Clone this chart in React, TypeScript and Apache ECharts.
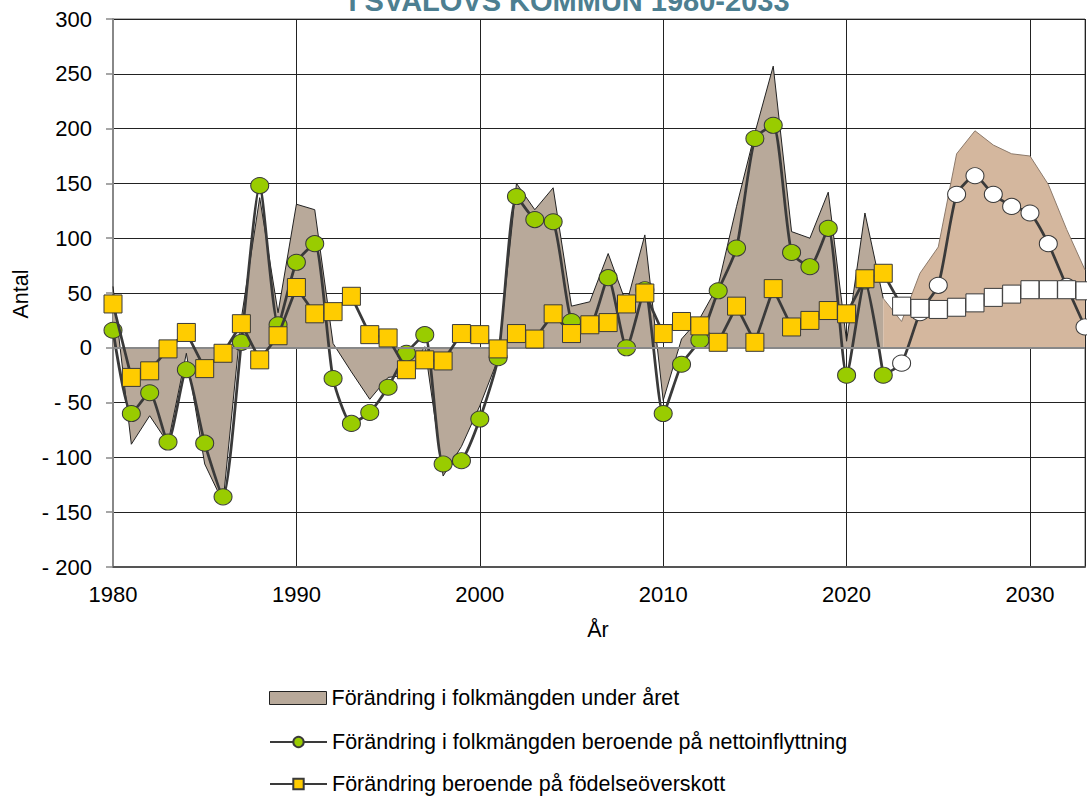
import React, { useEffect, useRef } from "react";
import * as echarts from "echarts";

const histYears = [
  1980, 1981, 1982, 1983, 1984, 1985, 1986, 1987, 1988, 1989,
  1990, 1991, 1992, 1993, 1994, 1995, 1996, 1997, 1998, 1999,
  2000, 2001, 2002, 2003, 2004, 2005, 2006, 2007, 2008, 2009,
  2010, 2011, 2012, 2013, 2014, 2015, 2016, 2017, 2018, 2019,
  2020, 2021, 2022,
];
const totalChange = [
  56, -88, -62, -87, -5, -106, -141, 27, 137, 32,
  131, 126, 4, -22, -47, -27, -25, 1, -117, -90,
  -53, -10, 150, 126, 146, 38, 42, 86, 40, 103,
  -48, 8, 27, 57, 129, 196, 257, 106, 100, 142,
  6, 123, 45,
];
const netMigration = [
  16, -60, -41, -86, -20, -87, -136, 5, 148, 21,
  78, 95, -28, -69, -59, -36, -5, 12, -106, -103,
  -65, -9, 138, 117, 115, 24, 21, 64, 0, 53,
  -60, -15, 7, 52, 91, 191, 203, 87, 74, 109,
  -25, 61, -25,
];
const birthSurplus = [
  40, -27, -21, -1, 14, -19, -5, 22, -11, 11,
  55, 31, 33, 47, 12, 9, -20, -11, -12, 13,
  12, -1, 13, 8, 31, 13, 21, 23, 40, 50,
  13, 24, 20, 5, 38, 5, 54, 19, 25, 34,
  31, 63, 68,
];

const projYears = [2022, 2023, 2024, 2025, 2026, 2027, 2028, 2029, 2030, 2031, 2032, 2033];
const projTotal = [45, 24, 68, 92, 177, 198, 185, 177, 175, 149, 108, 71];
const projMigration = [-25, -14, 32, 57, 140, 157, 140, 129, 123, 95, 56, 19];
const projBirth = [68, 38, 36, 35, 37, 41, 46, 49, 53, 53, 53, 52];

const NAME_AREA = "Förändring i folkmängden under året";
const NAME_MIG = "Förändring i folkmängden beroende på nettoinflyttning";
const NAME_BIRTH = "Förändring beroende på födelseöverskott";
const TITLE = "I SVALÖVS KOMMUN 1980-2033";

const FONT = "'Liberation Sans', Arial, sans-serif";
const LINE_COLOR = "#3a3a3a";

export default function App() {
  const ref = useRef<HTMLDivElement>(null);

  useEffect(() => {
    const chart = echarts.init(ref.current as HTMLDivElement, null, { renderer: "svg" });
    const pair = (xs: number[], vs: number[]) => xs.map((x, i) => [x, vs[i]]);
    const projPair = (xs: number[], vs: number[]) =>
      xs.map((x, i) => (i === 0 ? { value: [x, vs[i]], symbol: "none" } : [x, vs[i]]));

    const legendBase = {
      orient: "horizontal",
      left: 269,
      itemWidth: 57,
      itemHeight: 13,
      padding: 0,
      textStyle: { fontSize: 21.5, lineHeight: 22, color: "#000", fontFamily: FONT },
    };

    const option: any = {
      animation: false,
      backgroundColor: "#ffffff",
      textStyle: { fontFamily: FONT },
      grid: {
        left: 113,
        right: 2,
        top: 19,
        bottom: 229,
        show: true,
        borderColor: "#666",
        borderWidth: 1,
      },
      legend: [
        {
          ...legendBase,
          top: 687,
          data: [
            {
              name: NAME_AREA,
              icon: "rect",
              itemStyle: { color: "#b8a99a", borderColor: "#222", borderWidth: 1 },
            },
          ],
        },
        { ...legendBase, top: 731, data: [{ name: NAME_MIG }] },
        { ...legendBase, top: 773, data: [{ name: NAME_BIRTH }] },
      ],
      xAxis: {
        type: "value",
        min: 1980,
        max: 2033,
        interval: 10,
        axisLine: { show: true, onZero: false, lineStyle: { color: "#555", width: 2 } },
        axisTick: { show: false },
        axisLabel: {
          fontSize: 22,
          color: "#000",
          margin: 16,
          showMaxLabel: false,
          fontFamily: FONT,
          formatter: (v: number) => String(v),
        },
        splitLine: { show: true, lineStyle: { color: "#222", width: 1 } },
      },
      yAxis: {
        type: "value",
        min: -200,
        max: 300,
        interval: 50,
        axisLine: { show: true, lineStyle: { color: "#888", width: 2 } },
        axisTick: { show: true, length: 7, lineStyle: { color: "#888", width: 1.5 } },
        axisLabel: {
          fontSize: 22,
          color: "#000",
          margin: 21,
          fontFamily: FONT,
          formatter: (v: number) => (v < 0 ? "- " + Math.abs(v) : String(v)),
        },
        splitLine: { show: true, lineStyle: { color: "#222", width: 1 } },
      },
      graphic: [
        {
          type: "text",
          x: 569,
          y: 1,
          silent: true,
          style: {
            text: TITLE,
            fill: "#4d7f91",
            fontSize: 29,
            fontWeight: "bold",
            fontFamily: FONT,
            align: "center",
            verticalAlign: "middle",
          },
        },
        {
          type: "text",
          x: 21,
          y: 294,
          rotation: Math.PI / 2,
          silent: true,
          style: {
            text: "Antal",
            fill: "#000",
            fontSize: 21.5,
            fontFamily: FONT,
            align: "center",
            verticalAlign: "middle",
          },
        },
        {
          type: "text",
          x: 598,
          y: 630,
          silent: true,
          style: {
            text: "År",
            fill: "#000",
            fontSize: 21.5,
            fontFamily: FONT,
            align: "center",
            verticalAlign: "middle",
          },
        },
      ],
      series: [
        {
          name: NAME_AREA,
          type: "line",
          data: pair(histYears, totalChange),
          symbol: "none",
          lineStyle: { color: "#222", width: 1 },
          areaStyle: { color: "#b8a99a", opacity: 1 },
          itemStyle: { color: "#b8a99a" },
          z: 1,
          markLine: {
            silent: true,
            symbol: "none",
            label: { show: false },
            lineStyle: { color: "#888", width: 2, type: "solid" },
            data: [{ yAxis: 0 }],
          },
        },
        {
          name: "proj-area",
          type: "line",
          data: pair(projYears, projTotal),
          symbol: "none",
          lineStyle: { color: "#8c7a6b", width: 1 },
          areaStyle: { color: "#d4b79e", opacity: 1 },
          itemStyle: { color: "#d4b79e" },
          z: 1,
        },
        {
          name: "proj-mig",
          type: "line",
          data: projPair(projYears, projMigration),
          smooth: 0.2,
          symbol: "circle",
          symbolSize: [18, 16],
          showAllSymbol: true,
          lineStyle: { color: LINE_COLOR, width: 2.75 },
          itemStyle: { color: "#ffffff", borderColor: LINE_COLOR, borderWidth: 1 },
          z: 3,
        },
        {
          name: "proj-birth",
          type: "line",
          data: projPair(projYears, projBirth),
          symbol: "rect",
          symbolSize: 18,
          showAllSymbol: true,
          lineStyle: { color: LINE_COLOR, width: 2.75 },
          itemStyle: { color: "#ffffff", borderColor: LINE_COLOR, borderWidth: 1 },
          z: 3,
        },
        {
          name: NAME_MIG,
          type: "line",
          data: pair(histYears, netMigration),
          smooth: 0.2,
          symbol: "circle",
          symbolSize: [18, 16],
          showAllSymbol: true,
          lineStyle: { color: LINE_COLOR, width: 2.75 },
          itemStyle: { color: "#99cc00", borderColor: LINE_COLOR, borderWidth: 1 },
          z: 4,
        },
        {
          name: NAME_BIRTH,
          type: "line",
          data: pair(histYears, birthSurplus),
          symbol: "rect",
          symbolSize: 18,
          showAllSymbol: true,
          lineStyle: { color: LINE_COLOR, width: 2.75 },
          itemStyle: { color: "#ffcc00", borderColor: LINE_COLOR, borderWidth: 1 },
          z: 5,
        },
      ],
    };

    chart.setOption(option);
    return () => {
      chart.dispose();
    };
  }, []);

  return (
    <div
      ref={ref}
      style={{ position: "fixed", left: 0, top: 0, width: 1087, height: 796 }}
    />
  );
}
